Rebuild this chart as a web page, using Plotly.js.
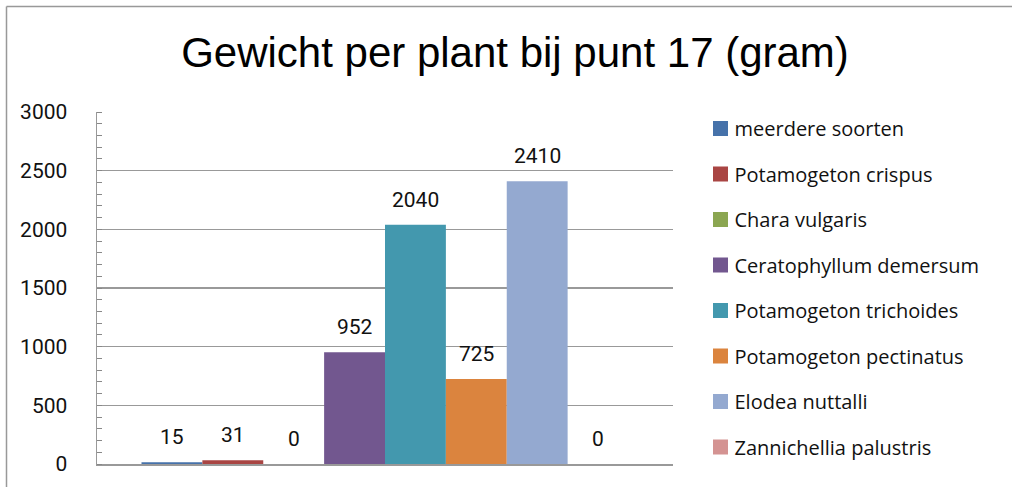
<!DOCTYPE html>
<html>
<head>
<meta charset="utf-8">
<script src="https://cdn.plot.ly/plotly-3.0.1.min.js"></script>
<style>
html,body{margin:0;padding:0;background:#fff;}
#chart{width:1012px;height:487px;}
#chart .legendpoints path{transform:translate(26px,0px) scale(1.25);}
</style>
</head>
<body>
<div id="chart"></div>
<script>
// ---- data ----
const category = ["punt 17"];
const seriesNames = [
  "meerdere soorten",
  "Potamogeton crispus",
  "Chara vulgaris",
  "Ceratophyllum demersum",
  "Potamogeton trichoides",
  "Potamogeton pectinatus",
  "Elodea nuttalli",
  "Zannichellia palustris"
];
const seriesValues = [15, 31, 0, 952, 2040, 725, 2410, 0];
const seriesColors = ["#4672AA", "#A94543", "#8BA651", "#72578F", "#4398AE", "#DB843E", "#94A9D0", "#D49392"];
const yTickVals = [0, 500, 1000, 1500, 2000, 2500, 3000];
const titleText = "Gewicht per plant bij punt 17 (gram)";

// ---- layout constants ----
const W = 1012, H = 487;
const mL = 97, mR = 339, mT = 112, mB = 23;
const plotW = W - mL - mR, plotH = H - mT - mB;
const bargap = 0.1545;
const nS = seriesNames.length;
const barW = (1 - bargap) / nS;

const traces = seriesNames.map((name, i) => ({
  type: "bar",
  name: name,
  x: category,
  y: [seriesValues[i]],
  marker: {color: seriesColors[i], line: {width: 0}},
  legendgroup: "g" + i,
  hoverinfo: "name+y"
}));

const annotations = seriesValues.map((v, i) => ({
  xref: "x", yref: "y",
  x: -(1 - bargap) / 2 + (i + 0.5) * barW,
  y: v,
  text: String(v),
  showarrow: false,
  yanchor: "middle",
  xanchor: "center",
  yshift: 25,
  font: {family: "Roboto, 'Liberation Sans', sans-serif", size: 21, color: "#111"}
}));

const px2x = p => (p - mL) / plotW;
const px2y = p => (H - mB - p) / plotH;

const layout = {
  width: W, height: H,
  margin: {l: mL, r: mR, t: mT, b: mB, pad: 0},
  paper_bgcolor: "#ffffff",
  plot_bgcolor: "#ffffff",
  barmode: "group",
  bargap: bargap,
  bargroupgap: 0,
  title: {
    text: titleText,
    font: {family: "'Liberation Sans Narrow', 'Liberation Sans', Arial, sans-serif", size: 42, color: "#000"},
    x: 515 / W,
    xref: "container",
    xanchor: "center",
    y: 1 - 52 / H,
    yref: "container",
    yanchor: "middle"
  },
  xaxis: {
    type: "category",
    showticklabels: false,
    ticks: "",
    showgrid: false,
    showline: true,
    linecolor: "#999",
    linewidth: 1.5,
    zeroline: false,
    fixedrange: true
  },
  yaxis: {
    range: [0, 3000],
    tickvals: yTickVals,
    ticktext: yTickVals.map(String),
    ticks: "",
    showgrid: true,
    gridcolor: "#999",
    gridwidth: 1.5,
    showline: true,
    linecolor: "#999",
    linewidth: 1.5,
    zeroline: false,
    ticklabelstandoff: 24,
    tickfont: {family: "Roboto, 'Liberation Sans', sans-serif", size: 21, color: "#111"},
    minor: {dtick: 100, ticks: "inside", ticklen: 5, tickcolor: "#888", tickwidth: 1, showgrid: false},
    fixedrange: true
  },
  legend: {
    x: px2x(694.5), xanchor: "left",
    y: px2y(109), yanchor: "top",
    traceorder: "grouped",
    tracegroupgap: 16.5,
    maxheight: 480,
    font: {family: "'Open Sans', 'Noto Sans', sans-serif", size: 20, color: "#111"},
    bgcolor: "rgba(0,0,0,0)",
    borderwidth: 0
  },
  annotations: annotations,
  shapes: [
    {type: "line", xref: "paper", yref: "paper", x0: px2x(6.5), x1: px2x(W + 10), y0: px2y(6.5), y1: px2y(6.5), line: {color: "#999", width: 1.5}},
    {type: "line", xref: "paper", yref: "paper", x0: px2x(6.5), x1: px2x(6.5), y0: px2y(6.5), y1: px2y(H + 10), line: {color: "#999", width: 1.5}}
  ],
  showlegend: true
};

Plotly.newPlot("chart", traces, layout, {displayModeBar: false, staticPlot: true});
</script>
</body>
</html>
